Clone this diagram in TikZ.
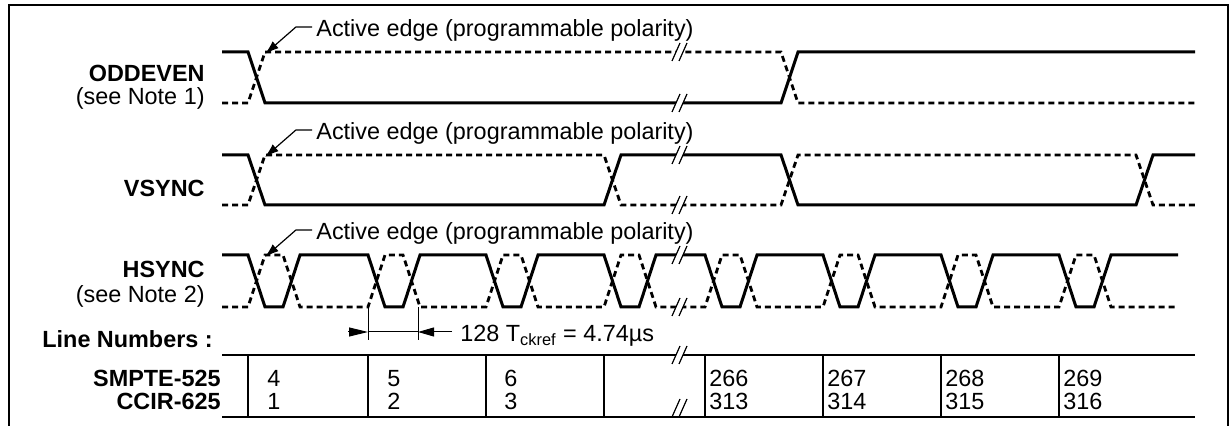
\documentclass[tikz,border=0pt]{standalone}
\usepackage{fontspec}
\setmainfont{Liberation Sans}[BoldFont={Liberation Sans Bold}]
\usetikzlibrary{arrows.meta}

\begin{document}
\begin{tikzpicture}[x=0.5pt,y=-0.5pt,
    every node/.style={font=\fontsize{11.7pt}{13pt}\selectfont, inner sep=0pt},
    lbl/.style={font=\fontsize{11.7pt}{13pt}\selectfont\bfseries, anchor=base east},
    note/.style={anchor=base east},
    sig/.style={line width=1.5pt, line join=miter},
    alt/.style={line width=1.4pt, dash pattern=on 3pt off 2pt},
    pointer/.style={line width=0.6pt, -{Latex[length=7pt,width=4.5pt]}},
    dim/.style={line width=0.5pt},
    cell/.style={anchor=base west}]
      \useasboundingbox (0,0) rectangle (1231,426);
      % frame
      \draw[line width=1pt] (9,426) -- (9,5) -- (1228,5) -- (1228,426);

      % signal names
      \node[lbl] (odd) at (205,82) {ODDEVEN};
      \node[note] (n1) at (205,105) {(see Note 1)};
      \node[lbl] (vs) at (205,197) {VSYNC};
      \node[lbl] (hs) at (205,278) {HSYNC};
      \node[note] (n2) at (205,303) {(see Note 2)};
      \node[lbl, anchor=base west] (ln) at (42,348) {Line Numbers :};
      \node[lbl] (smpte) at (221,387) {SMPTE-525};
      \node[lbl] (ccir) at (221,410) {CCIR-625};

      % ODDEVEN
      \draw[sig] (222,52) -- (248,52) -- (265,103) -- (781,103) -- (798,52) -- (1195,52);
      \draw[alt] (222,103) -- (248,103) -- (265,52) -- (781,52) -- (798,103) -- (1195,103);

      % VSYNC
      \draw[sig] (222,155) -- (248,155) -- (265,205) -- (604,205) -- (621,155) -- (781,155) -- (798,205) -- (1136,205) -- (1153,155) -- (1195,155);
      \draw[alt] (222,205) -- (248,205) -- (265,155) -- (604,155) -- (621,205) -- (781,205) -- (798,155) -- (1136,155) -- (1153,205) -- (1195,205);

      % HSYNC
      \draw[sig] (222,255) \foreach \s in {248,368,486,604,705,823,941,1059} { -- (\s,255) -- (\s+17,307) -- (\s+35,307) -- (\s+52,255) } -- (1178,255);
      \draw[alt] (222,307) \foreach \s in {248,368,486,604,705,823,941,1059} { -- (\s,307) -- (\s+17,255) -- (\s+35,255) -- (\s+52,307) } -- (1178,307);

      % line number table
      \draw[line width=1.2pt] (222,355) -- (1195,355);
      \draw[line width=1.2pt] (222,417) -- (1195,417);
      \foreach \x in {248,368,486,604,705,823,941,1059}
        \draw[line width=1pt] (\x,355) -- (\x,417);
      \foreach \x/\a/\b in {267/4/1,387/5/2,504/6/3,709/266/313,827/267/314,945/268/315,1063/269/316} {
        \node[cell] (s\a) at (\x,387) {\a};
        \node[cell] (c\b) at (\x,410) {\b};
      }

      % breaks
      \foreach \y in {52,103,155,205,255,307,355} {
        \fill[white] (672,\y+9) -- (680,\y-9) -- (687,\y-9) -- (679,\y+9) -- cycle;
        \draw[line width=0.6pt] (672,\y+9) -- (680,\y-9) (679,\y+9) -- (687,\y-9);
      }
      \draw[line width=0.6pt] (672,417) -- (680,399) (679,417) -- (687,399);

      % active edge notes
      \foreach \n/\y in {odd/52,vs/155,hs/255} {
        \node[anchor=base west] (ae\n) at (316,\y-15) {Active edge (programmable polarity)};
        \coordinate (tip\n) at (265,\y+2);
        \draw[pointer] (ae\n.west) ++(-4,-4) -- ++(-16,0) -- (tip\n);
      }

      % 128 Tckref
      \coordinate (m1) at (368,307);
      \coordinate (m2) at (418,307);
      \coordinate (d1) at (368,332);
      \coordinate (d2) at (418,332);
      \draw[dim] (m1) -- ++(0,33);
      \draw[dim] (m2) -- ++(0,33);
      \draw[dim, -{Triangle[length=9.5pt,width=4.5pt]}] (348,332) -- (d1);
      \draw[dim] (d1) -- (d2);
      \draw[dim, -{Triangle[length=8pt,width=4.5pt]}] (452,332) -- (d2);
      \node[anchor=base west] (tck) at (460,342) {128 T\textsubscript{ckref} = 4.74µs};
    \end{tikzpicture}
\end{document}
